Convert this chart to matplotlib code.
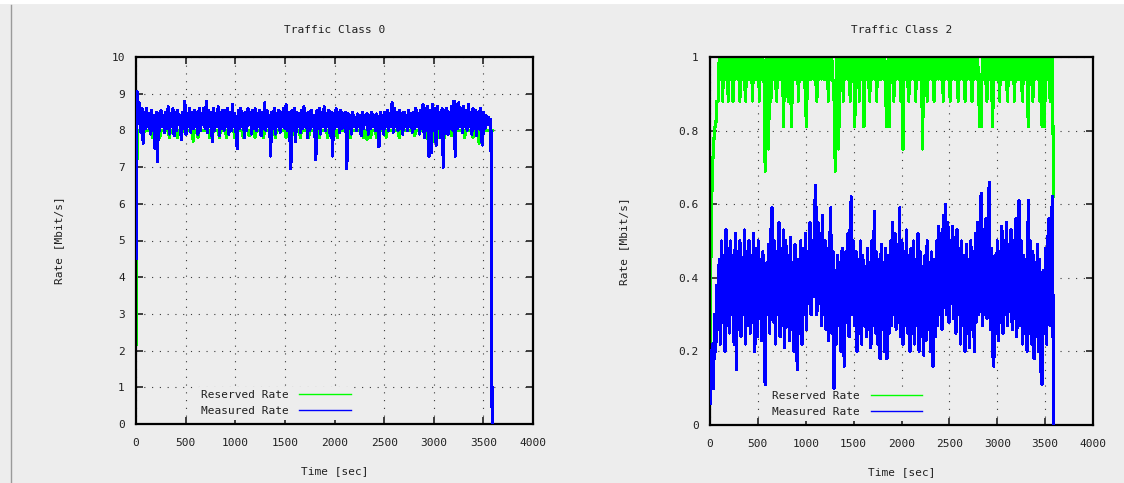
import matplotlib
matplotlib.use("Agg")
import matplotlib.pyplot as plt
from matplotlib.lines import Line2D
import numpy as np

# sample spacing of the recorded rates (seconds)
step = 12

# Traffic Class 0 -- rates in Mbit/s, one value every 12 s
reserved0 = [
    2.0, 8.0, 8.0, 8.0, 8.0, 8.0, 7.75, 8.0, 8.0, 8.0, 8.0, 8.0, 8.0, 8.0, 7.8, 8.0, 8.0, 8.0, 8.0, 8.0, 7.8, 8.0, 8.0, 8.0, 8.0,
    8.0, 8.0, 8.0, 7.8, 8.0, 8.0, 8.0, 8.0, 8.0, 8.0, 7.8, 8.0, 8.0, 7.85, 8.0, 8.0, 8.0, 8.0, 8.0, 8.0, 8.0, 8.0, 8.0, 7.7, 8.0,
    8.0, 8.0, 7.8, 8.0, 8.0, 8.0, 8.0, 8.0, 8.0, 8.0, 8.0, 8.0, 7.8, 8.0, 7.85, 8.0, 8.0, 8.0, 8.0, 8.0, 7.8, 8.0, 8.0, 8.0, 8.0,
    8.0, 7.8, 8.0, 8.0, 8.0, 8.0, 8.0, 8.0, 7.8, 8.0, 8.0, 8.0, 8.0, 8.0, 8.0, 7.8, 8.0, 8.0, 8.0, 8.0, 7.85, 8.0, 8.0, 8.0, 8.0,
    7.8, 8.0, 8.0, 8.0, 8.0, 8.0, 8.0, 7.8, 8.0, 8.0, 8.0, 8.0, 8.0, 8.0, 8.0, 8.0, 8.0, 7.8, 8.0, 8.0, 8.0, 8.0, 8.0, 8.0, 8.0,
    8.0, 7.8, 8.0, 8.0, 8.0, 8.0, 7.85, 8.0, 8.0, 8.0, 8.0, 8.0, 8.0, 7.8, 8.0, 8.0, 8.0, 8.0, 8.0, 8.0, 7.8, 8.0, 8.0, 8.0, 8.0,
    8.0, 8.0, 8.0, 8.0, 7.8, 8.0, 8.0, 8.0, 8.0, 8.0, 8.0, 7.8, 8.0, 8.0, 8.0, 8.0, 8.0, 8.0, 8.0, 7.8, 8.0, 8.0, 8.0, 8.0, 8.0,
    8.0, 8.0, 8.0, 8.0, 8.0, 7.8, 8.0, 8.0, 8.0, 8.0, 8.0, 8.0, 8.0, 8.0, 8.0, 8.0, 7.8, 8.0, 8.0, 7.75, 8.0, 8.0, 7.8, 8.0, 8.0,
    8.0, 8.0, 7.8, 8.0, 8.0, 8.0, 8.0, 8.0, 8.0, 8.0, 7.8, 8.0, 8.0, 8.0, 8.0, 8.0, 8.0, 8.0, 8.0, 8.0, 8.0, 7.8, 8.0, 8.0, 8.0,
    8.0, 8.0, 8.0, 8.0, 8.0, 8.0, 8.0, 8.0, 8.0, 7.85, 8.0, 8.0, 8.0, 8.0, 8.0, 8.0, 8.0, 8.0, 7.8, 8.0, 7.75, 8.0, 7.8, 8.0, 8.0,
    7.7, 8.0, 8.0, 7.8, 8.0, 8.0, 8.0, 8.0, 8.0, 7.8, 8.0, 8.0, 8.0, 8.0, 8.0, 7.85, 8.0, 8.0, 8.0, 8.0, 8.0, 8.0, 8.0, 8.0, 8.0,
    8.0, 7.8, 8.0, 8.0, 8.0, 8.0, 8.0, 8.0, 7.8, 8.0, 8.0, 8.0, 8.0, 7.65, 8.0, 8.0, 8.0, 8.0, 8.0, 8.0, 8.0, 8.0, 8.0, 8.0, 8.0,
]
measured0 = [
    4.5, 9.05, 8.2, 8.75, 7.95, 8.6, 7.65, 8.5, 8.05, 8.6, 8.1, 8.45, 7.9, 8.55, 8.0, 8.4, 7.5, 8.5, 7.15, 8.45, 8.0, 8.55, 8.1, 8.4, 7.95,
    8.5, 8.05, 8.65, 7.9, 8.45, 8.1, 8.6, 7.85, 8.5, 8.0, 8.55, 8.15, 8.4, 7.75, 8.5, 8.05, 8.8, 7.9, 8.45, 8.1, 8.6, 7.95, 8.5, 8.05, 8.55,
    8.1, 8.5, 7.9, 8.6, 8.0, 8.45, 8.15, 8.6, 8.05, 8.8, 7.95, 8.55, 8.1, 8.5, 7.7, 8.6, 8.0, 8.45, 8.1, 8.65, 7.85, 8.5, 8.05, 8.55, 8.0,
    8.55, 8.1, 8.6, 7.9, 8.5, 8.0, 8.7, 8.1, 8.45, 7.95, 7.5, 8.55, 8.05, 8.6, 8.1, 8.45, 7.8, 8.5, 8.0, 8.6, 8.15, 8.5, 7.9, 8.55, 8.05,
    8.6, 8.0, 8.45, 8.1, 8.55, 7.85, 8.5, 8.05, 8.75, 8.0, 8.55, 8.1, 8.4, 7.3, 8.5, 8.05, 8.6, 7.9, 8.45, 8.1, 8.55, 7.95, 8.5, 8.1, 8.6,
    8.05, 8.7, 8.0, 8.5, 8.1, 6.95, 8.55, 8.0, 8.6, 7.7, 8.5, 8.1, 8.45, 7.95, 8.55, 8.05, 8.65, 8.1, 8.45, 7.8, 8.5, 8.0, 8.55, 8.1, 8.4,
    8.1, 7.2, 8.55, 8.05, 8.6, 7.9, 8.5, 8.1, 8.65, 8.0, 8.45, 8.1, 8.55, 7.85, 8.5, 7.3, 8.45, 8.05, 8.6, 8.1, 8.5, 7.95, 8.55, 8.05, 8.45,
    8.1, 8.5, 6.95, 8.45, 8.05, 8.4, 7.9, 8.5, 8.1, 8.35, 8.0, 8.45, 8.1, 8.4, 7.85, 8.5, 8.05, 8.4, 8.15, 8.45, 7.9, 8.4, 8.05, 8.5, 8.1,
    8.4, 8.0, 8.45, 8.1, 7.55, 8.5, 8.05, 8.4, 7.9, 8.5, 8.1, 8.55, 8.0, 8.45, 8.1, 8.75, 7.95, 8.6, 8.1, 8.5, 8.0, 8.55, 8.05, 8.45, 7.9,
    8.5, 8.1, 8.4, 8.0, 8.55, 8.1, 8.45, 7.95, 8.5, 8.05, 8.6, 8.1, 8.45, 7.9, 8.55, 8.05, 8.7, 7.8, 8.6, 8.0, 8.65, 7.3, 8.55, 7.4, 8.7,
    8.0, 8.6, 7.6, 8.65, 8.05, 8.5, 7.8, 8.6, 7.0, 8.55, 8.1, 8.6, 7.9, 8.5, 8.05, 8.65, 8.0, 8.8, 7.3, 8.7, 8.05, 8.75, 8.1, 8.6, 7.95,
    8.65, 8.1, 8.55, 8.0, 8.7, 8.1, 8.5, 7.9, 8.6, 8.05, 8.55, 7.85, 8.5, 8.1, 8.6, 7.75, 7.6, 8.5, 8.05, 8.4, 8.15, 8.35, 8.2, 8.3, 0.0,
]

# Traffic Class 2 -- rates in Mbit/s, one value every 12 s
reserved2 = [
    0.22, 0.5, 0.69, 0.75, 0.81, 0.81, 0.88, 0.88, 1, 0.94, 1, 0.88, 1, 0.94, 1, 0.94, 0.88, 1, 0.94, 1, 0.88, 1, 0.94, 1, 0.94,
    1, 0.88, 1, 0.94, 1, 0.94, 0.88, 1, 0.94, 1, 0.94, 1, 0.88, 1, 0.94, 1, 0.94, 1, 0.88, 1, 0.94, 1, 0.94, 0.69, 1,
    0.94, 0.75, 1, 0.88, 1, 0.94, 1, 0.94, 0.88, 1, 0.94, 1, 0.94, 1, 0.81, 1, 0.94, 1, 0.88, 1, 0.94, 0.81, 1, 0.94, 1,
    0.94, 1, 0.88, 1, 0.94, 1, 0.94, 1, 0.88, 0.81, 1, 0.94, 1, 0.94, 1, 0.94, 1, 0.94, 0.88, 1, 0.94, 1, 0.94, 1, 0.94,
    1, 0.94, 1, 0.88, 1, 0.94, 1, 0.94, 0.88, 0.69, 1, 0.94, 0.75, 1, 0.94, 1, 0.88, 1, 0.94, 1, 0.94, 1, 0.88, 1, 0.94,
    1, 0.81, 1, 0.94, 1, 0.88, 1, 0.94, 1, 0.81, 1, 0.94, 1, 0.94, 0.88, 1, 0.94, 1, 0.94, 1, 0.88, 1, 0.94, 1, 0.94,
    1, 0.94, 1, 0.88, 0.81, 1, 0.81, 1, 0.94, 1, 0.88, 1, 0.94, 1, 0.94, 1, 0.88, 1, 0.75, 1, 0.94, 1, 0.94, 0.88, 1,
    0.94, 1, 0.94, 1, 0.88, 1, 0.94, 1, 0.94, 1, 0.75, 1, 0.94, 1, 0.88, 1, 0.94, 1, 0.94, 1, 0.88, 1, 0.94, 1, 0.94,
    1, 0.94, 1, 0.88, 1, 0.94, 1, 0.94, 1, 0.88, 1, 0.94, 1, 0.94, 1, 0.94, 0.88, 1, 0.94, 1, 0.94, 1, 0.88, 1, 0.94,
    1, 0.94, 1, 0.88, 1, 0.94, 1, 0.94, 1, 0.88, 0.81, 0.81, 1, 0.94, 1, 0.94, 0.88, 1, 0.94, 1, 0.94, 0.81, 1, 0.94, 1,
    0.94, 1, 0.88, 1, 0.94, 1, 0.94, 1, 0.94, 0.88, 1, 0.94, 1, 0.94, 1, 0.88, 1, 0.94, 1, 0.94, 1, 0.94, 0.88, 1, 0.94,
    1, 0.94, 0.81, 1, 0.94, 1, 0.88, 1, 0.94, 1, 0.94, 1, 0.88, 1, 0.81, 1, 0.81, 0.94, 1, 0.94, 1, 0.88, 1, 1, 0.62,
]
measured2 = [
    0.06, 0.13, 0.22, 0.1, 0.3, 0.2, 0.38, 0.26, 0.45, 0.22, 0.5, 0.28, 0.46, 0.2, 0.53, 0.27, 0.48, 0.25, 0.5, 0.3, 0.44, 0.22, 0.52, 0.15, 0.47,
    0.26, 0.5, 0.24, 0.45, 0.3, 0.53, 0.22, 0.47, 0.27, 0.5, 0.25, 0.46, 0.28, 0.52, 0.2, 0.48, 0.24, 0.5, 0.29, 0.45, 0.23, 0.47, 0.26, 0.11, 0.44,
    0.3, 0.49, 0.25, 0.52, 0.59, 0.28, 0.5, 0.22, 0.47, 0.3, 0.55, 0.24, 0.48, 0.27, 0.53, 0.21, 0.5, 0.28, 0.46, 0.23, 0.51, 0.26, 0.44, 0.2, 0.49,
    0.27, 0.15, 0.45, 0.25, 0.5, 0.22, 0.48, 0.3, 0.52, 0.26, 0.47, 0.33, 0.55, 0.3, 0.5, 0.35, 0.58, 0.65, 0.3, 0.55, 0.33, 0.52, 0.27, 0.57, 0.3,
    0.5, 0.26, 0.48, 0.23, 0.45, 0.59, 0.25, 0.47, 0.1, 0.42, 0.22, 0.46, 0.27, 0.44, 0.2, 0.48, 0.25, 0.16, 0.47, 0.28, 0.52, 0.24, 0.55, 0.62, 0.3,
    0.5, 0.27, 0.47, 0.2, 0.45, 0.25, 0.5, 0.22, 0.46, 0.28, 0.43, 0.24, 0.48, 0.26, 0.44, 0.21, 0.5, 0.27, 0.58, 0.25, 0.47, 0.22, 0.45, 0.18, 0.49,
    0.26, 0.44, 0.2, 0.48, 0.18, 0.46, 0.25, 0.5, 0.27, 0.55, 0.3, 0.52, 0.26, 0.49, 0.28, 0.59, 0.24, 0.5, 0.22, 0.47, 0.27, 0.53, 0.25, 0.46, 0.2,
    0.48, 0.25, 0.5, 0.22, 0.45, 0.27, 0.52, 0.2, 0.47, 0.24, 0.43, 0.19, 0.46, 0.23, 0.5, 0.26, 0.44, 0.2, 0.47, 0.16, 0.45, 0.24, 0.5, 0.27, 0.54,
    0.3, 0.52, 0.26, 0.57, 0.32, 0.6, 0.3, 0.55, 0.28, 0.5, 0.33, 0.54, 0.29, 0.51, 0.25, 0.53, 0.3, 0.48, 0.22, 0.5, 0.27, 0.46, 0.2, 0.49, 0.25,
    0.45, 0.21, 0.5, 0.26, 0.47, 0.2, 0.52, 0.28, 0.55, 0.3, 0.5, 0.63, 0.27, 0.53, 0.3, 0.56, 0.29, 0.5, 0.66, 0.26, 0.48, 0.2, 0.16, 0.46, 0.25,
    0.5, 0.23, 0.47, 0.28, 0.54, 0.25, 0.5, 0.3, 0.55, 0.27, 0.49, 0.31, 0.53, 0.26, 0.5, 0.29, 0.56, 0.24, 0.48, 0.61, 0.27, 0.5, 0.22, 0.46, 0.25,
    0.45, 0.2, 0.61, 0.25, 0.5, 0.22, 0.47, 0.18, 0.44, 0.24, 0.49, 0.2, 0.45, 0.15, 0.11, 0.42, 0.25, 0.48, 0.22, 0.5, 0.56, 0.27, 0.52, 0.62, 0.0,
]

t = np.arange(len(measured0)) * step

bg = "#ededed"
green = "#00ff00"
blue = "#0000ff"
font = "DejaVu Sans Mono"
fs = 8

plt.rcParams["font.family"] = font
plt.rcParams["font.size"] = fs

fig = plt.figure(figsize=(11.24, 4.83), dpi=100, facecolor=bg)

# screenshot frame: white strip at top, thin gray line on the left
fig.add_artist(Line2D([0, 1], [1 - 2 / 483, 1 - 2 / 483], color="white", lw=3, transform=fig.transFigure))
fig.add_artist(Line2D([11 / 1124, 11 / 1124], [0, 1 - 5 / 483], color="#9a9a9a", lw=1, transform=fig.transFigure))

ax1 = fig.add_axes([136 / 1124, 1 - 424 / 483, 397 / 1124, 367 / 483])
ax2 = fig.add_axes([710 / 1124, 1 - 425 / 483, 383 / 1124, 368 / 483])


def style(ax, title, ymax, yticks, ylabels, ylabelpad, legend_x):
    ax.set_facecolor(bg)
    ax.set_xlim(0, 4000)
    ax.set_ylim(0, ymax)
    ax.set_xticks(range(0, 4001, 500))
    ax.set_yticks(yticks)
    ax.set_yticklabels(ylabels)
    ax.tick_params(direction="in", length=5, width=1.2, top=True, right=True,
                   labelsize=fs, colors="#202020")
    ax.tick_params(axis="x", pad=10)
    ax.tick_params(axis="y", pad=8)
    for s in ax.spines.values():
        s.set_linewidth(1.6)
        s.set_color("black")
    ax.set_axisbelow(True)
    ax.grid(True, color="#3a3a3a", lw=0.8, linestyle=(0, (1, 6)))
    ax.set_title(title, fontsize=fs, pad=17, color="#202020")
    ax.set_xlabel("Time [sec]", fontsize=fs, labelpad=13, color="#202020")
    ax.set_ylabel("Rate [Mbit/s]", fontsize=fs, labelpad=ylabelpad, color="#202020")
    leg = ax.legend(loc="lower right", bbox_to_anchor=(legend_x, 0.0), markerfirst=False,
                    frameon=True, facecolor=bg, edgecolor="none", framealpha=1,
                    fontsize=fs, handlelength=4.6, handletextpad=1.0,
                    labelspacing=0.55, borderpad=0.3, borderaxespad=0.4)
    for txt in leg.get_texts():
        txt.set_color("#202020")
    for h in leg.get_lines():
        h.set_linewidth(1.0)
        h.set_antialiased(True)
    leg.set_zorder(1.5)


ax1.plot(t, reserved0, color=green, lw=1.4, label="Reserved Rate", zorder=2, antialiased=False)
ax1.plot(t, measured0, color=blue, lw=1.5, label="Measured Rate", zorder=3, antialiased=False)
style(ax1, "Traffic Class 0", 10, range(0, 11), [str(v) for v in range(0, 11)], 34, 0.56)

ax2.plot(t, reserved2, color=green, lw=1.5, label="Reserved Rate", zorder=2, antialiased=False)
ax2.plot(t, measured2, color=blue, lw=1.6, label="Measured Rate", zorder=3, antialiased=False)
style(ax2, "Traffic Class 2", 1, [0, 0.2, 0.4, 0.6, 0.8, 1],
      ["0", "0.2", "0.4", "0.6", "0.8", "1"], 36, 0.575)

fig.savefig("out.png", dpi=100, facecolor=bg)
